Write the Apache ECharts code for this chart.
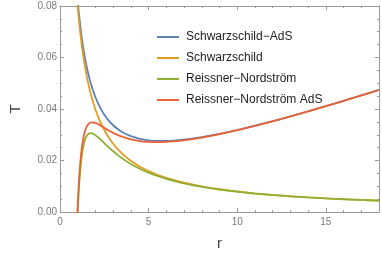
<!DOCTYPE html>
<html><head><meta charset="utf-8">
<script src="https://cdn.jsdelivr.net/npm/echarts@6/dist/echarts.min.js"></script>
<style>html,body{margin:0;padding:0;background:#fff}#c{width:382px;height:256px}</style>
</head><body><div id="c"></div>
<script>
const rValues = [0.9, 0.98, 1, 1.02, 1.05, 1.1, 1.2, 1.3, 1.4, 1.5, 1.6, 1.75, 2, 2.25, 2.5, 2.75, 3, 3.25, 3.5, 3.75, 4, 4.5, 5, 5.5, 6, 7, 8, 9, 10, 11, 12, 13, 14, 15, 16, 17, 18];
const seriesNames = ['Schwarzschild−AdS', 'Schwarzschild', 'Reissner−Nordström', 'Reissner−Nordström AdS'];
const schwarzschildAdS = [0.09057, 0.08354, 0.08197, 0.08045, 0.07830, 0.07497, 0.06918, 0.06432, 0.06018, 0.05663, 0.05356, 0.04965, 0.04456, 0.04074, 0.03780, 0.03550, 0.03369, 0.03224, 0.03109, 0.03017, 0.02944, 0.02843, 0.02785, 0.02760, 0.02759, 0.02808, 0.02905, 0.03033, 0.03183, 0.03350, 0.03528, 0.03716, 0.03911, 0.04112, 0.04317, 0.04527, 0.04739];
const schwarzschild = [0.08842, 0.08120, 0.07958, 0.07802, 0.07579, 0.07234, 0.06631, 0.06121, 0.05684, 0.05305, 0.04974, 0.04547, 0.03979, 0.03537, 0.03183, 0.02894, 0.02653, 0.02449, 0.02274, 0.02122, 0.01989, 0.01768, 0.01592, 0.01447, 0.01326, 0.01137, 0.00995, 0.00884, 0.00796, 0.00723, 0.00663, 0.00612, 0.00568, 0.00531, 0.00497, 0.00468, 0.00442];
const reissnerNordstrom = [null, null, 0, 0.00303, 0.00705, 0.01256, 0.02026, 0.02499, 0.02784, 0.02947, 0.03031, 0.03063, 0.02984, 0.02838, 0.02674, 0.02511, 0.02358, 0.02217, 0.02088, 0.01971, 0.01865, 0.01681, 0.01528, 0.01399, 0.01290, 0.01114, 0.00979, 0.00873, 0.00788, 0.00717, 0.00659, 0.00609, 0.00566, 0.00528, 0.00495, 0.00467, 0.00441];
const reissnerNordstromAdS = [null, -0.00101, 0.00239, 0.00546, 0.00955, 0.01518, 0.02313, 0.02810, 0.03118, 0.03305, 0.03413, 0.03480, 0.03462, 0.03375, 0.03271, 0.03168, 0.03074, 0.02993, 0.02924, 0.02867, 0.02820, 0.02755, 0.02722, 0.02712, 0.02722, 0.02785, 0.02889, 0.03022, 0.03175, 0.03344, 0.03523, 0.03712, 0.03908, 0.04109, 0.04315, 0.04525, 0.04738];
const xTicks = [0, 5, 10, 15];
const yTicks = ['0.00', '0.02', '0.04', '0.06', '0.08'];
const colors = ['#5E81B5', '#E19C24', '#8FB032', '#EB6235'];
const allSeries = [schwarzschildAdS, schwarzschild, reissnerNordstrom, reissnerNordstromAdS];

const chart = echarts.init(document.getElementById('c'), null, {renderer: 'canvas'});
const axisGray = '#9a9a9a';
const labelGray = '#7a7a7a';
const font = 'Liberation Sans, Arial, sans-serif';
function xAxisCfg(pos, show) {
  return {
    type: 'value', position: pos, min: 0, max: 18, interval: 5,
    axisLine: {show: true, onZero: false, lineStyle: {color: axisGray, width: 1}},
    axisTick: {show: true, inside: true, length: 4, lineStyle: {color: axisGray}},
    minorTick: {show: true, splitNumber: 5, length: 2, lineStyle: {color: axisGray}},
    axisLabel: {show: show, color: labelGray, fontSize: 10, fontFamily: font, margin: 5,
      formatter: v => xTicks.includes(v) ? String(v) : ''},
    splitLine: {show: false},
    name: show ? 'r' : '', nameLocation: 'middle', nameGap: 24,
    nameTextStyle: {color: '#444', fontSize: 15, fontFamily: font}
  };
}
function yAxisCfg(pos, show) {
  return {
    type: 'value', position: pos, min: 0, max: 0.08, interval: 0.02,
    axisLine: {show: true, onZero: false, lineStyle: {color: axisGray, width: 1}},
    axisTick: {show: true, inside: true, length: 4, lineStyle: {color: axisGray}},
    minorTick: {show: true, splitNumber: 4, length: 2, lineStyle: {color: axisGray}},
    axisLabel: {show: show, color: labelGray, fontSize: 10, fontFamily: font, margin: 3,
      formatter: v => yTicks[Math.round(v / 0.02)]},
    splitLine: {show: false},
    name: show ? 'T' : '', nameLocation: 'middle', nameGap: 37, nameRotate: 90,
    nameTextStyle: {color: '#444', fontSize: 15, fontFamily: font}
  };
}
chart.setOption({
  animation: false,
  grid: {left: 48, right: 3, top: 6, bottom: 44, containLabel: false},
  xAxis: [xAxisCfg('bottom', true), xAxisCfg('top', false)],
  yAxis: [yAxisCfg('left', true), yAxisCfg('right', false)],
  legend: {
    orient: 'vertical', left: 152, top: 25, itemWidth: 22, itemHeight: 2, itemGap: 7,
    icon: 'rect',
    textStyle: {color: '#222', fontSize: 12, fontFamily: font, lineHeight: 14, padding: [0, 0, 0, 2]},
    data: seriesNames
  },
  series: allSeries.map((vals, i) => ({
    name: seriesNames[i], type: 'line', xAxisIndex: 0, yAxisIndex: 0,
    data: rValues.map((r, k) => [r, vals[k]]),
    showSymbol: false, smooth: 0.3, clip: true, connectNulls: false,
    lineStyle: {color: colors[i], width: 1.8}, itemStyle: {color: colors[i]},
    z: 2 + i
  }))
});
</script></body></html>
